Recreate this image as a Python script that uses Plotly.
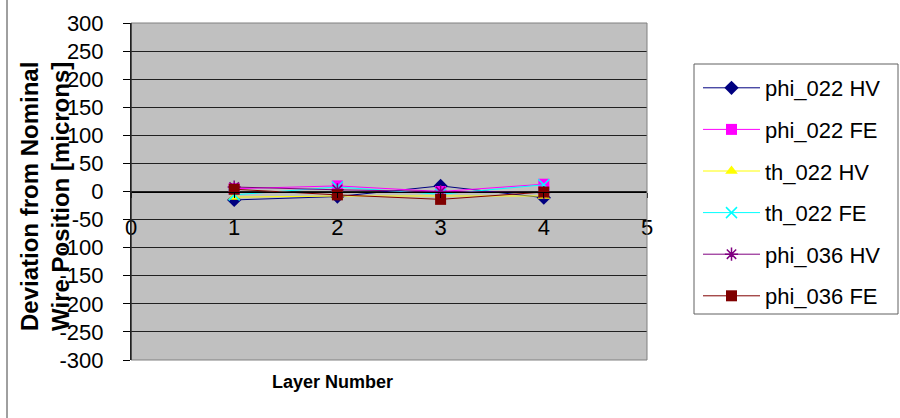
import plotly.graph_objects as go

# Layer numbers and per-wire-group deviations (microns)
layers = [1, 2, 3, 4]
phi_022_hv = [-15, -9, 10, -11]
phi_022_fe = [5, 10, 0, 13]
th_022_hv = [-10, -8, -8, -8]
th_022_fe = [-6, 8, -5, 12]
phi_036_hv = [8, 3, 0, -2]
phi_036_fe = [4, -6, -14, -1]

series_names = ["phi_022 HV", "phi_022 FE", "th_022 HV", "th_022 FE", "phi_036 HV", "phi_036 FE"]
series_values = [phi_022_hv, phi_022_fe, th_022_hv, th_022_fe, phi_036_hv, phi_036_fe]
colors = ["#000080", "#FF00FF", "#FFFF00", "#00FFFF", "#800080", "#800000"]
symbols = ["diamond", "square", "triangle-up", "x-thin-open", "asterisk-open", "square"]

# y tick labels written with a plain hyphen
y_ticks = list(range(-300, 301, 50))
y_tick_text = [str(v) for v in y_ticks]

FONT = "Arial, Liberation Sans, sans-serif"

# plot-area geometry in pixels
W, H = 900, 418
L, R, T, B = 131, 253, 23, 58
pw, ph = W - L - R, H - T - B


def px_x(x):
    return (x - L) / pw


def px_y(y):
    return (H - B - y) / ph


fig = go.Figure()
for i, (name, vals, col, sym) in enumerate(zip(series_names, series_values, colors, symbols)):
    fig.add_trace(go.Scatter(
        x=layers, y=vals, name=name, mode="lines+markers",
        legendgroup=f"g{i}",
        line=dict(color=col, width=1),
        marker=dict(symbol=sym, size=11, color=col, line=dict(color=col, width=1.5 if "open" in sym else 0)),
    ))

fig.update_layout(
    width=W, height=H,
    margin=dict(l=L, r=R, t=T, b=B, pad=0),
    paper_bgcolor="white",
    plot_bgcolor="#C0C0C0",
    font=dict(family=FONT, size=22, color="black"),
    showlegend=True,
    legend=dict(
        x=px_x(698), y=px_y(67), xanchor="left", yanchor="top",
        bgcolor="rgba(0,0,0,0)", borderwidth=0,
        font=dict(family=FONT, size=22, color="black"),
        tracegroupgap=10, itemwidth=57,
    ),
    xaxis=dict(
        range=[0, 5], dtick=1, tick0=0,
        showgrid=False, zeroline=False,
        showline=True, linecolor="black", linewidth=1,
        anchor="free", position=0.5,
        ticks="outside", ticklen=5, tickcolor="black",
        ticklabelstandoff=11,
        tickfont=dict(family=FONT, size=22),
    ),
    yaxis=dict(
        range=[-300, 300], tickmode="array", tickvals=y_ticks, ticktext=y_tick_text,
        showgrid=True, gridcolor="#202020", gridwidth=1,
        zeroline=False,
        showline=True, linecolor="black", linewidth=1,
        ticks="outside", ticklen=7, tickcolor="black",
        ticklabelstandoff=15,
        tickfont=dict(family=FONT, size=22),
    ),
)

# plot-area frame, legend frame and chart-area edge
fig.add_shape(type="rect", xref="paper", yref="paper", x0=0, x1=1, y0=0, y1=1,
              line=dict(color="#808080", width=1), layer="above")
fig.add_shape(type="line", xref="paper", yref="paper", x0=0, x1=0, y0=0, y1=1,
              line=dict(color="black", width=1), layer="above")
fig.add_shape(type="rect", xref="paper", yref="paper",
              x0=px_x(694), x1=px_x(898), y0=px_y(314), y1=px_y(64),
              line=dict(color="#606060", width=1))
fig.add_shape(type="line", xref="paper", yref="paper",
              x0=px_x(7), x1=px_x(7), y0=px_y(418), y1=px_y(0),
              line=dict(color="#404040", width=1))

# axis titles
fig.add_annotation(
    text="Deviation from Nominal<br>Wire Position [microns]",
    xref="paper", yref="paper", x=px_x(45), y=px_y(197),
    textangle=-90, showarrow=False, xanchor="center", yanchor="middle",
    font=dict(family=FONT, size=24, color="black", weight="bold"),
)
fig.add_annotation(
    text="Layer Number",
    xref="paper", yref="paper", x=px_x(332), y=px_y(382),
    showarrow=False, xanchor="center", yanchor="middle",
    font=dict(family=FONT, size=18, color="black", weight="bold"),
)

fig.write_html("out.html")
